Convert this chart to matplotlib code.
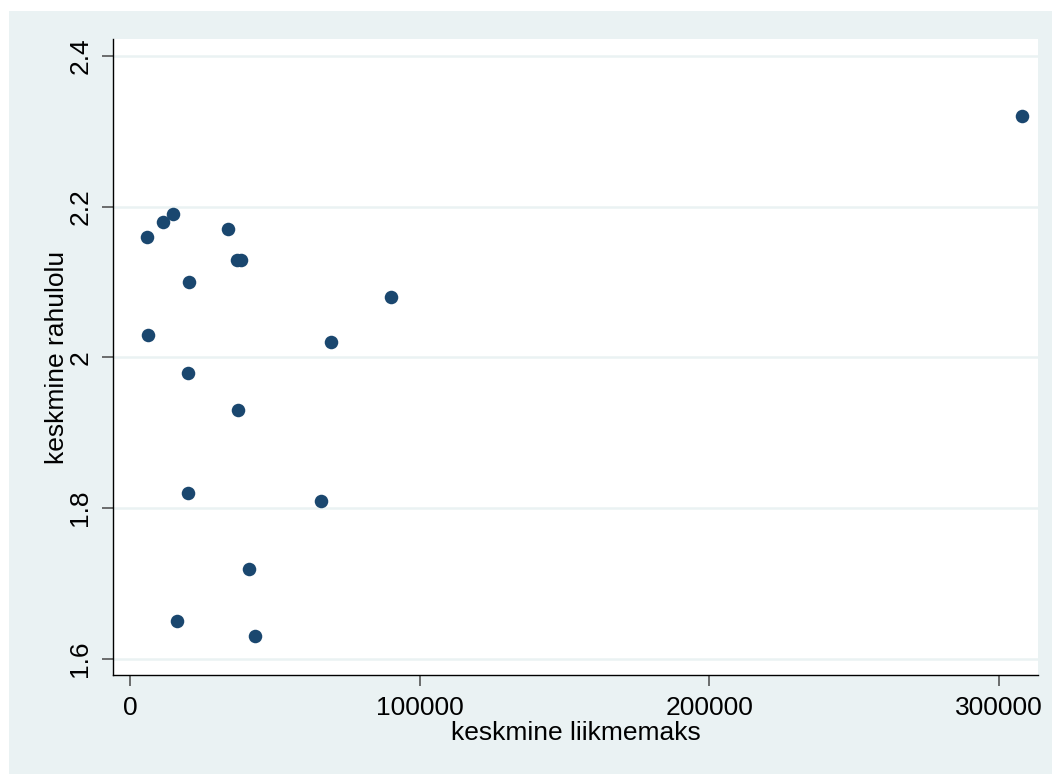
import matplotlib.pyplot as plt
from matplotlib.patches import Rectangle

# mean membership fee vs mean satisfaction
liikmemaks = [5990, 11520, 14980, 33800, 36920, 38300, 20300, 90170, 6230, 69550,
              20070, 37370, 20070, 66090, 41180, 16260, 43250, 307960]
rahulolu = [2.16, 2.18, 2.19, 2.17, 2.13, 2.13, 2.10, 2.08, 2.03, 2.02,
            1.98, 1.93, 1.82, 1.81, 1.72, 1.65, 1.63, 2.32]

x_ticks = [0, 100000, 200000, 300000]
y_ticks = [1.6, 1.8, 2.0, 2.2, 2.4]
y_tick_labels = ['1.6', '1.8', '2', '2.2', '2.4']

plt.rcParams['font.family'] = ['Liberation Sans', 'DejaVu Sans']

bg = '#eaf2f3'
navy = '#1a476f'

fig = plt.figure(figsize=(10.52, 7.74), dpi=100)
fig.patches.append(Rectangle((9 / 1052, 0), 1, 1 - 11 / 774, transform=fig.transFigure,
                             facecolor=bg, edgecolor='none', zorder=-1))

ax = fig.add_axes([113 / 1052, 1 - 675 / 774, 925 / 1052, 636 / 774])
ax.set_facecolor('white')

ax.scatter(liikmemaks, rahulolu, s=95, color=navy, linewidths=0, zorder=3)

ax.set_xlim(-5871, 313570)
ax.set_ylim(1.5787, 2.4226)

ax.set_xticks(x_ticks)
ax.set_xticklabels([str(t) for t in x_ticks])
ax.set_yticks(y_ticks)
ax.set_yticklabels(y_tick_labels, rotation=90, va='center')

ax.grid(axis='y', color=bg, linewidth=1.8)
ax.set_axisbelow(True)

for side in ['top', 'right']:
    ax.spines[side].set_visible(False)
for side in ['left', 'bottom']:
    ax.spines[side].set_color('black')
    ax.spines[side].set_linewidth(1.0)

ax.tick_params(axis='both', direction='out', length=8, width=1.2, color='#555555',
               labelsize=19, pad=7)

ax.set_xlabel('keskmine liikmemaks', fontsize=19)
ax.set_ylabel('keskmine rahulolu', fontsize=19)
ax.xaxis.set_label_coords(0.5, -0.0725)
ax.yaxis.set_label_coords(-0.0476, 0.5)
ax.xaxis.label.set_va('top')

fig.savefig('out.png', dpi=100)
